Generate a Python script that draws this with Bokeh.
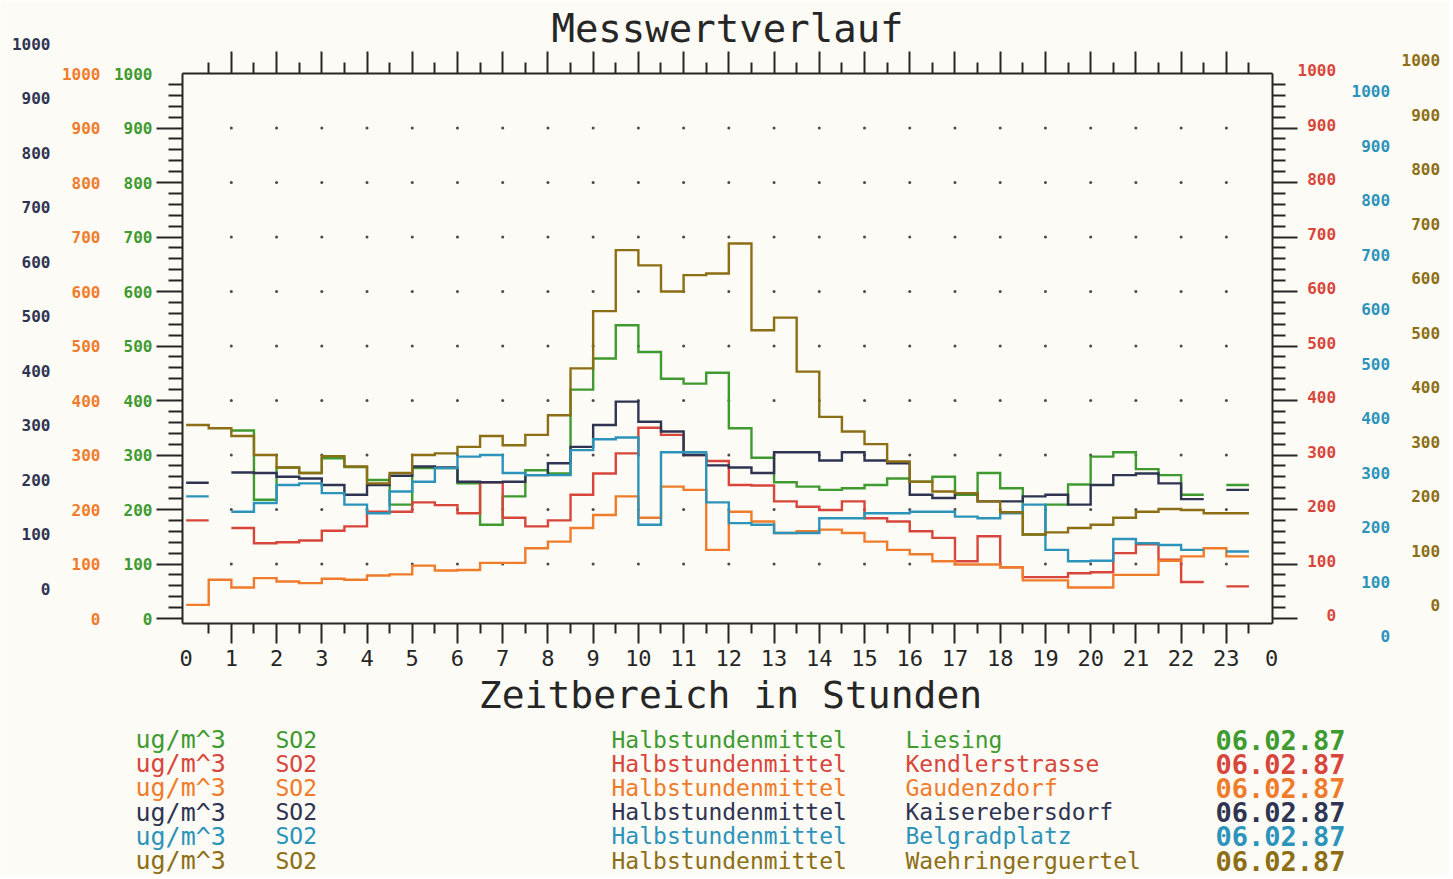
import math
from bokeh.plotting import figure
from bokeh.models import Range1d, LinearAxis, FixedTicker, CustomJSTickFormatter, Grid
from bokeh.core.properties import value
from bokeh.embed import file_html
from bokeh.resources import INLINE

N = float("nan")

# ---------------- data ----------------
hour_labels = ["0", "1", "2", "3", "4", "5", "6", "7", "8", "9", "10", "11", "12",
               "13", "14", "15", "16", "17", "18", "19", "20", "21", "22", "23", "0"]
axis_levels = [0, 100, 200, 300, 400, 500, 600, 700, 800, 900, 1000]

stations = ["Liesing", "Kendlerstrasse", "Gaudenzdorf", "Kaiserebersdorf",
            "Belgradplatz", "Waehringerguertel"]
unit_label = "ug/m^3"
component_label = "SO2"
mean_label = "Halbstundenmittel"
date_label = "06.02.87"

# half-hour means, SO2 ug/m^3 (48 intervals, 0:00 .. 24:00)
liesing = [N, N, 345, 218, 277, 267, 294, 278, 254, 209, 276, 276, 248, 172, 224, 272,
           266, 420, 477, 538, 489, 440, 431, 451, 349, 295, 250, 242, 236, 239, 245, 257,
           251, 260, 227, 267, 239, 154, 209, 246, 297, 305, 274, 263, 227, N, 245, N]
kendlerstrasse = [180, N, 166, 138, 140, 143, 161, 169, 196, 196, 213, 208, 193, 250, 185, 169,
                  180, 227, 266, 303, 350, 337, 300, 289, 245, 244, 215, 205, 199, 215, 184, 178,
                  160, 148, 105, 151, 94, 76, 76, 83, 85, 120, 136, 108, 67, N, 59, N]
gaudenzdorf = [25, 71, 57, 74, 68, 65, 73, 71, 79, 81, 97, 88, 89, 102, 102, 129,
               141, 166, 190, 224, 185, 242, 236, 126, 196, 178, 157, 160, 163, 157, 141, 126,
               118, 105, 99, 99, 94, 70, 70, 57, 57, 80, 80, 106, 114, 129, 114, N]
kaiserebersdorf = [249, N, 268, 267, 260, 257, 245, 227, 245, 262, 279, 277, 251, 250, 251, 263,
                   285, 315, 355, 398, 361, 343, 300, 281, 277, 267, 305, 305, 290, 305, 290, 285,
                   227, 221, 230, 215, 215, 224, 227, 209, 245, 263, 266, 248, 219, N, 236, N]
belgradplatz = [224, N, 196, 212, 245, 248, 230, 209, 193, 233, 251, 276, 297, 300, 267, 263,
                263, 309, 329, 332, 172, 305, 305, 213, 175, 172, 157, 157, 184, 184, 193, 193,
                196, 196, 187, 184, 193, 209, 126, 105, 106, 146, 138, 135, 126, N, 123, N]
waehringerguertel = [355, 349, 335, 300, 277, 267, 298, 279, 248, 267, 300, 303, 315, 335, 318, 337,
                     373, 459, 564, 676, 648, 600, 630, 633, 688, 529, 552, 453, 370, 343, 320, 288,
                     251, 233, 230, 215, 195, 154, 158, 166, 172, 185, 196, 201, 199, 193, 193, N]

# ---------------- styling ----------------
BG = "#fcfbf5"
DARK = "#262626"
GREEN = "#3f9a30"
RED = "#d8463b"
ORANGE = "#f07c2b"
NAVY = "#2e3452"
BLUE = "#2c93ba"
OLIVE = "#8c6e14"
MONO = "DejaVu Sans Mono"

series = [
    (liesing, GREEN),
    (kendlerstrasse, RED),
    (gaudenzdorf, ORANGE),
    (kaiserebersdorf, NAVY),
    (belgradplatz, BLUE),
    (waehringerguertel, OLIVE),
]

# page-pixel -> data helpers (layout only)
FIG_W, FIG_H = 1449, 875
PX_PER_HOUR = 45.228
HOUR0_PAGE_X = 185.6
PX_PER_UNIT = 0.545
ZERO_PAGE_Y = 618.0


def xd(px):
    return (px - HOUR0_PAGE_X) / PX_PER_HOUR


def yd(py):
    return (ZERO_PAGE_Y - py) / PX_PER_UNIT


BOX_L, BOX_R, BOX_T, BOX_B = 182, 1272, 73, 623

y_lo, y_hi = yd(FIG_H), yd(0)
p = figure(width=FIG_W, height=FIG_H,
           x_range=Range1d(xd(0), xd(FIG_W)),
           y_range=Range1d(y_lo, y_hi),
           x_axis_location=None, y_axis_location=None,
           toolbar_location=None, output_backend="svg", title=None,
           min_border=0, min_border_left=0, min_border_right=0,
           min_border_top=0, min_border_bottom=0,
           background_fill_color=BG, border_fill_color=BG,
           outline_line_color=None)

# no background grid lines
for r in list(p.center):
    if isinstance(r, Grid):
        r.visible = False
        r.grid_line_color = None


def shifted(offset_px):
    sh = offset_px / PX_PER_UNIT
    return Range1d(y_lo - sh, y_hi - sh)


# label columns are staggered vertically in the original plot
p.extra_y_ranges = {
    "navy": shifted(30),
    "olive": shifted(13),
    "blue": shifted(-18),
    "red": shifted(3),
}

major_levels = axis_levels[:-1]
minor_levels = [v for v in range(0, axis_levels[-1], 20) if v % 100 != 0]
hours = list(range(len(hour_labels)))
half_hours = [h + 0.5 for h in hours[:-1]]

empty_fmt = CustomJSTickFormatter(code="return '';")


def tick_axis(side, loc, bounds, ticks, minor, major_len, minor_len):
    ax = LinearAxis(fixed_location=loc, bounds=bounds,
                    ticker=FixedTicker(ticks=ticks, minor_ticks=minor),
                    formatter=empty_fmt,
                    major_label_text_font_size="0px",
                    axis_line_color=DARK, axis_line_width=2,
                    major_tick_line_color=DARK, major_tick_line_width=2,
                    minor_tick_line_color=DARK, minor_tick_line_width=2,
                    major_tick_out=major_len, major_tick_in=0,
                    minor_tick_out=minor_len, minor_tick_in=0)
    p.add_layout(ax, side)


# box edges with tick marks
tick_axis("left", xd(BOX_L), (yd(BOX_B), yd(BOX_T)), major_levels, minor_levels, 26, 14)
tick_axis("right", xd(BOX_R), (yd(BOX_B), yd(BOX_T)), major_levels, minor_levels, 25, 13)
tick_axis("above", yd(BOX_T), (xd(BOX_L), xd(BOX_R)), hours[1:-1], half_hours, 22, 11)
tick_axis("below", yd(BOX_B), (xd(BOX_L), xd(BOX_R)), hours[1:-1], half_hours, 20, 10)


def label_axis(side, loc, color, range_name=None, standoff=4, pad=False):
    kw = {}
    if range_name:
        kw["y_range_name"] = range_name
    if pad:
        fmt = CustomJSTickFormatter(
            code="var s = String(Math.round(tick)); while (s.length < 4) { s = '\\u00a0' + s; } return s;")
    else:
        fmt = CustomJSTickFormatter(code="return String(Math.round(tick));")
    ax = LinearAxis(fixed_location=loc,
                    ticker=FixedTicker(ticks=axis_levels, minor_ticks=[]),
                    formatter=fmt,
                    axis_line_color=None, major_tick_line_color=None, minor_tick_line_color=None,
                    major_tick_out=0, major_tick_in=0, minor_tick_out=0, minor_tick_in=0,
                    major_label_standoff=standoff,
                    major_label_text_color=color,
                    major_label_text_font=MONO,
                    major_label_text_font_style="bold",
                    major_label_text_font_size="16px", **kw)
    p.add_layout(ax, side)


label_axis("left", xd(156), GREEN, standoff=4)
label_axis("left", xd(104), ORANGE, standoff=4)
label_axis("left", xd(54), NAVY, "navy", standoff=4)
label_axis("right", xd(1297), RED, "red", standoff=0, pad=True)
label_axis("right", xd(1351), BLUE, "blue", standoff=0, pad=True)
label_axis("right", xd(1401), OLIVE, "olive", standoff=0, pad=True)

# hour labels under the box
hx = LinearAxis(fixed_location=yd(BOX_B),
                ticker=FixedTicker(ticks=hours, minor_ticks=[]),
                formatter=CustomJSTickFormatter(args=dict(labels=hour_labels),
                                                code="return labels[Math.round(tick)];"),
                axis_line_color=None, major_tick_line_color=None, minor_tick_line_color=None,
                major_tick_out=0, major_tick_in=0, minor_tick_out=0, minor_tick_in=0,
                major_label_standoff=26,
                major_label_text_color=DARK, major_label_text_font=MONO,
                major_label_text_font_size="22px")
p.add_layout(hx, "below")

# dotted grid
gx = [h for h in hours[1:-1] for _ in major_levels[1:]]
gy = [v for _ in hours[1:-1] for v in major_levels[1:]]
p.scatter(gx, gy, size=3, color="#4a4a4a", line_color=None)


# step lines (half-hour means)
def step_path(vals):
    xs, ys = [], []
    for i, v in enumerate(vals):
        if v is None or (isinstance(v, float) and math.isnan(v)):
            if xs and not math.isnan(ys[-1]):
                xs.append(N)
                ys.append(N)
            continue
        xs += [i * 0.5, (i + 1) * 0.5]
        ys += [v, v]
    return xs, ys


for vals, col in series:
    xs, ys = step_path(vals)
    p.line(xs, ys, line_color=col, line_width=2.4, line_join="miter")

# titles
p.text(x=[xd(727)], y=[yd(28)], text=["Messwertverlauf"], text_font=value(MONO),
       text_font_size="39px", text_color=DARK, text_align="center", text_baseline="middle")
p.text(x=[xd(730)], y=[yd(694)], text=["Zeitbereich in Stunden"], text_font=value(MONO),
       text_font_size="38px", text_color=DARK, text_align="center", text_baseline="middle")

# legend table
row_y = [yd(739 + 24.2 * r) for r in range(len(stations))]
colors = [c for _, c in series]
n = len(stations)
p.text(x=[xd(135)] * n, y=row_y, text=[unit_label] * n, text_color=colors,
       text_font=value(MONO), text_font_size="25px", text_baseline="middle")
p.text(x=[xd(275)] * n, y=row_y, text=[component_label] * n, text_color=colors,
       text_font=value(MONO), text_font_size="23px", text_baseline="middle")
p.text(x=[xd(611)] * n, y=row_y, text=[mean_label] * n, text_color=colors,
       text_font=value(MONO), text_font_size="23px", text_baseline="middle")
p.text(x=[xd(905)] * n, y=row_y, text=stations, text_color=colors,
       text_font=value(MONO), text_font_size="23px", text_baseline="middle")
p.text(x=[xd(1215)] * n, y=row_y, text=[date_label] * n, text_color=colors,
       text_font=value(MONO), text_font_size="27px", text_font_style="bold",
       text_baseline="middle")

open("out.html", "w").write(file_html(p, INLINE))
